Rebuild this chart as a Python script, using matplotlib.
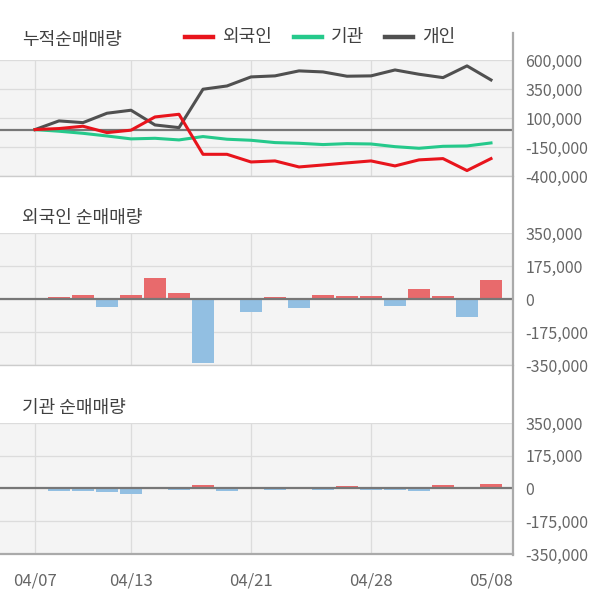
import numpy as np
import matplotlib
matplotlib.use("Agg")
import matplotlib.pyplot as plt
from matplotlib.lines import Line2D

plt.rcParams['font.family'] = ['Noto Sans CJK KR', 'DejaVu Sans']

# trading days shown on the chart
dates = ['04/07', '04/08', '04/09', '04/10', '04/13', '04/14', '04/16', '04/17',
         '04/20', '04/21', '04/22', '04/23', '04/24', '04/27', '04/28', '04/29',
         '05/04', '05/06', '05/07', '05/08']
tick_dates = ['04/07', '04/13', '04/21', '04/28', '05/08']
grid_dates = ['04/07', '04/13', '04/21', '04/28']

# cumulative net buying
foreign_cum = [0, 9000, 29000, -26000, -5000, 109000, 132000, -213000, -213000, -279000,
               -270000, -322000, -305000, -287000, -270000, -313000, -261000, -250000,
               -353000, -250000]
inst_cum = [0, -14000, -32000, -55000, -80000, -75000, -89000, -60000, -83000, -92000,
            -112000, -118000, -129000, -121000, -124000, -147000, -161000, -144000,
            -141000, -115000]
indiv_cum = [0, 75000, 60000, 141000, 167000, 40000, 17000, 348000, 376000, 454000,
             463000, 506000, 497000, 460000, 463000, 514000, 477000, 448000, 549000,
             428000]

# daily net buying
foreign_daily = [0, 9000, 19000, -42000, 19000, 110000, 30000, -340000, 0, -69000,
                 9000, -48000, 19000, 14000, 14000, -39000, 53000, 14000, -95000, 101000]
inst_daily = [0, -16000, -16000, -21000, -27000, 9000, -10000, 20000, -16000, 0,
              -8000, 0, -8000, 14000, -8000, -8000, -16000, 19000, 0, 24000]

cum_ticks = [-400000, -150000, 100000, 350000, 600000]
bar_ticks = [-350000, -175000, 0, 175000, 350000]

RED = '#e8141c'
GREEN = '#25c98b'
DARK = '#505050'
BAR_RED = '#e86a6c'
BAR_BLUE = '#92bfe2'
BG = '#f4f4f4'
GRID = '#dcdcdc'
TXT = '#666666'
TITLE = '#404040'

x = np.arange(len(dates))
xlim = (-1.458, 19.917)

fig = plt.figure(figsize=(6.0, 6.04), dpi=100)


def setup(ax, ticks, fmt_ticks):
    ax.set_facecolor(BG)
    ax.set_xlim(*xlim)
    ax.set_ylim(ticks[0], ticks[-1])
    ax.set_yticks(ticks)
    ax.set_yticklabels(fmt_ticks)
    ax.yaxis.tick_right()
    ax.tick_params(axis='y', length=0, pad=9, labelsize=11.5, labelcolor=TXT)
    ax.tick_params(axis='x', length=0)
    ax.set_xticks([dates.index(d) for d in tick_dates])
    ax.set_xticklabels([])
    for s in ['top', 'left', 'right']:
        ax.spines[s].set_visible(False)
    ax.spines['bottom'].set_color('#cccccc')
    ax.spines['bottom'].set_linewidth(1.0)
    for t in ticks:
        ax.axhline(t, color=GRID, lw=0.9, zorder=0)
    for d in grid_dates:
        ax.axvline(dates.index(d), color=GRID, lw=0.9, zorder=0)
    ax.axhline(0, color='#777777', lw=1.6, zorder=3)


def fmt(vals):
    return ['{:,}'.format(v) for v in vals]


# top: cumulative
ax1 = fig.add_axes([0, 0.7086, 0.855, 0.1921])
setup(ax1, cum_ticks, fmt(cum_ticks))
ax1.plot(x, indiv_cum, color=DARK, lw=2.2, zorder=4)
ax1.plot(x, inst_cum, color=GREEN, lw=2.2, zorder=4)
ax1.plot(x, foreign_cum, color=RED, lw=2.2, zorder=5)

# middle: foreign daily
ax2 = fig.add_axes([0, 0.3957, 0.855, 0.2185])
setup(ax2, bar_ticks, fmt(bar_ticks))
fd = np.array(foreign_daily)
ax2.bar(x, fd, width=0.95, color=np.where(fd >= 0, BAR_RED, BAR_BLUE), zorder=2)

# bottom: institution daily
ax3 = fig.add_axes([0, 0.0828, 0.855, 0.2169])
setup(ax3, bar_ticks, fmt(bar_ticks))
idl = np.array(inst_daily)
ax3.bar(x, idl, width=0.95, color=np.where(idl >= 0, BAR_RED, BAR_BLUE), zorder=2)
ax3.spines['bottom'].set_color('#aaaaaa')
ax3.spines['bottom'].set_linewidth(1.6)
ax3.set_xticklabels(tick_dates)
ax3.tick_params(axis='x', pad=13, labelsize=12, labelcolor=TXT)

# right divider line
fig.add_artist(Line2D([513 / 600, 513 / 600], [1 - 33 / 604, 1 - 555 / 604],
                      color='#aaaaaa', lw=1.6))

# titles
fig.text(22 / 600, 1 - 40 / 604, '누적순매매량', fontsize=13, color=TITLE, va='center')
fig.text(22 / 600, 1 - 218 / 604, '외국인 순매매량', fontsize=13, color=TITLE, va='center')
fig.text(22 / 600, 1 - 408 / 604, '기관 순매매량', fontsize=13, color=TITLE, va='center')

# legend
legend_items = [('외국인', RED, 185), ('기관', GREEN, 294), ('개인', DARK, 385)]
ly = 1 - 37 / 604
for label, color, lx in legend_items:
    fig.add_artist(Line2D([lx / 600, (lx + 28) / 600], [ly, ly], color=color, lw=3.2))
    fig.text((lx + 37) / 600, ly, label, fontsize=13, color=TITLE, va='center')

fig.savefig('out.png', dpi=100, facecolor='white')
